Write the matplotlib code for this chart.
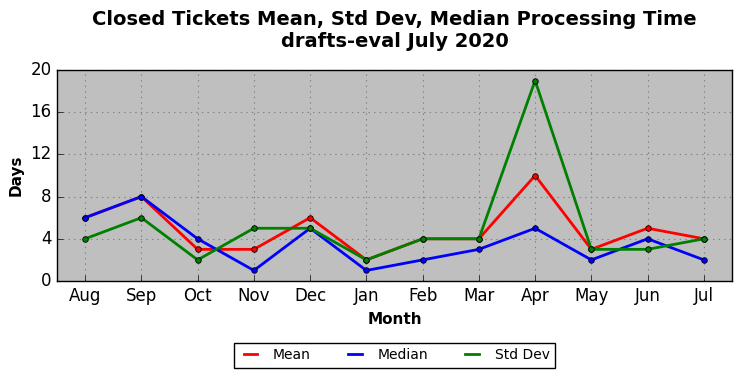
import matplotlib
matplotlib.use("Agg")
import matplotlib.pyplot as plt
from matplotlib.lines import Line2D

plt.style.use("classic")

months = ['Aug', 'Sep', 'Oct', 'Nov', 'Dec', 'Jan', 'Feb', 'Mar', 'Apr', 'May', 'Jun', 'Jul']
mean = [6, 8, 3, 3, 6, 2, 4, 4, 10, 3, 5, 4]
median = [6, 8, 4, 1, 5, 1, 2, 3, 5, 2, 4, 2]
std_dev = [4, 6, 2, 5, 5, 2, 4, 4, 19, 3, 3, 4]

fig = plt.figure(figsize=(7.42, 3.78), dpi=100, facecolor='white')
ax = fig.add_axes([57 / 742, 1 - 281 / 378, 675 / 742, 211 / 378])
ax.set_facecolor('#bfbfbf')

x = range(len(months))
series = [('Mean', mean, 'red'), ('Median', median, 'blue'), ('Std Dev', std_dev, 'green')]
handles = []
for name, vals, col in series:
    ax.plot(x, vals, color=col, lw=2, marker='o', ms=4, mec='black', mew=0.6)
    handles.append(Line2D([], [], color=col, lw=2, label=name))

ax.set_xlim(-0.5, 11.5)
ax.set_ylim(0, 20)
ax.set_yticks([0, 4, 8, 12, 16, 20])
ax.set_xticks(list(x))
ax.set_xticklabels(months)
ax.tick_params(labelsize=12, top=False, right=False)
ax.grid(True, color='#808080', linestyle=':', linewidth=0.8)
ax.set_axisbelow(True)

ax.set_xlabel('Month', fontsize=11, fontweight='bold')
ax.set_ylabel('Days', fontsize=11, fontweight='bold')
ax.set_title('Closed Tickets Mean, Std Dev, Median Processing Time\ndrafts-eval July 2020',
             fontsize=14, fontweight='bold', y=1.075)

leg = ax.legend(handles=handles, loc='upper center', bbox_to_anchor=(0.5, -0.26), ncol=3,
                fontsize=10, frameon=True, fancybox=False, handlelength=1.6,
                columnspacing=2.4)
leg.get_frame().set_edgecolor('black')

fig.savefig('out.png', dpi=100, facecolor='white')
